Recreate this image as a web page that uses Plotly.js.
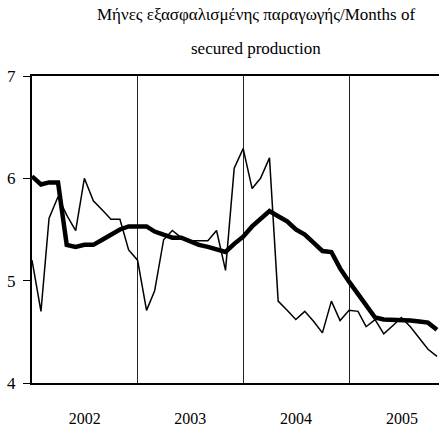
<!DOCTYPE html>
<html>
<head>
<meta charset="utf-8">
<script src="https://cdn.plot.ly/plotly-3.0.1.min.js"></script>
<style>html,body{margin:0;padding:0;background:#fff;}#chart{width:439px;height:426px;}</style>
</head>
<body>
<div id="chart"></div>
<script>
var months = [
  '2002-01','2002-02','2002-03','2002-04','2002-05','2002-06','2002-07','2002-08','2002-09','2002-10','2002-11','2002-12',
  '2003-01','2003-02','2003-03','2003-04','2003-05','2003-06','2003-07','2003-08','2003-09','2003-10','2003-11','2003-12',
  '2004-01','2004-02','2004-03','2004-04','2004-05','2004-06','2004-07','2004-08','2004-09','2004-10','2004-11','2004-12',
  '2005-01','2005-02','2005-03','2005-04','2005-05','2005-06','2005-07','2005-08','2005-09','2005-10','2005-11'
];
var monthly = [
  5.20,4.70,5.61,5.82,5.64,5.49,6.00,5.78,5.69,5.60,5.60,5.30,
  5.20,4.71,4.90,5.40,5.49,5.42,5.39,5.39,5.39,5.49,5.10,6.10,
  6.29,5.90,6.00,6.20,4.80,4.71,4.62,4.70,4.60,4.49,4.80,4.61,
  4.71,4.70,4.55,4.62,4.48,4.56,4.64,4.55,4.44,4.33,4.26
];
var movingAvg = [
  6.02,5.94,5.96,5.96,5.35,5.33,5.35,5.35,5.40,5.45,5.50,5.53,
  5.53,5.53,5.48,5.45,5.42,5.42,5.38,5.35,5.33,5.31,5.28,5.36,
  5.43,5.53,5.60,5.68,5.63,5.58,5.50,5.45,5.37,5.29,5.28,5.12,
  4.99,4.87,4.75,4.64,4.62,4.62,4.61,4.61,4.60,4.59,4.52
];
var yTicks = [4,5,6,7];
var titleLine1 = 'Μήνες εξασφαλισμένης παραγωγής/Months of';
var titleLine2 = 'secured production';

var serif = 'Liberation Serif';

var data = [
  {x: months, y: monthly, type: 'scatter', mode: 'lines',
   line: {color: '#000', width: 1.5}, hoverinfo: 'skip', showlegend: false},
  {x: months, y: movingAvg, type: 'scatter', mode: 'lines',
   line: {color: '#000', width: 4.5}, hoverinfo: 'skip', showlegend: false}
];

var layout = {
  width: 439, height: 426,
  margin: {l: 32, r: 0, t: 76, b: 43, autoexpand: false},
  paper_bgcolor: '#fff', plot_bgcolor: '#fff',
  font: {family: serif, size: 16, color: '#000'},
  showlegend: false,
  xaxis: {
    type: 'date',
    range: ['2002-01-01', '2005-11-08'],
    tick0: '2002-01-01', dtick: 'M12',
    tickformat: '%Y', ticklabelmode: 'period',
    ticks: '', showgrid: true, gridcolor: '#222', gridwidth: 1,
    showline: true, linecolor: '#000', linewidth: 2, mirror: true,
    zeroline: false, automargin: false,
    ticklabelstandoff: 20,
    tickfont: {family: serif, size: 16, color: '#000'}
  },
  yaxis: {
    range: [4, 7], tickvals: yTicks, ticktext: yTicks.map(String),
    ticks: 'outside', ticklen: 7, tickwidth: 1, tickcolor: '#000',
    showgrid: false, zeroline: false,
    showline: true, linecolor: '#000', linewidth: 2, mirror: false,
    automargin: false, ticklabelstandoff: 4,
    tickfont: {family: serif, size: 17, color: '#000'}
  },
  annotations: [
    {text: titleLine1, xref: 'paper', yref: 'paper', x: 0.55, y: 1.199,
     xanchor: 'center', yanchor: 'middle', showarrow: false,
     font: {family: serif, size: 17, color: '#000'}},
    {text: titleLine2, xref: 'paper', yref: 'paper', x: 0.55, y: 1.091,
     xanchor: 'center', yanchor: 'middle', showarrow: false,
     font: {family: serif, size: 17, color: '#000'}}
  ]
};

Plotly.newPlot('chart', data, layout, {staticPlot: true, displayModeBar: false});
</script>
</body>
</html>
